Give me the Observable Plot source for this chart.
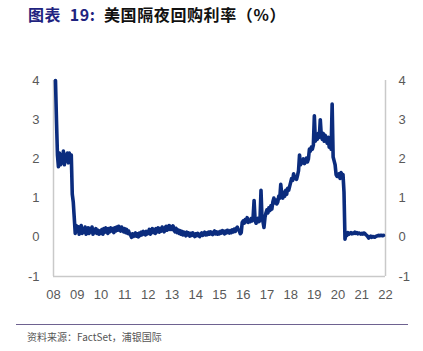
<!DOCTYPE html>
<html>
<head>
<meta charset="utf-8">
<script src="https://cdn.jsdelivr.net/npm/d3@7"></script>
<script src="https://cdn.jsdelivr.net/npm/@observablehq/plot@0.6"></script>
<style>
  html, body { margin: 0; padding: 0; background: #fff; }
  body { width: 423px; height: 351px; position: relative; overflow: hidden; }
  #title { position: absolute; left: 28px; top: 3px; font-family: "Noto Sans CJK SC", sans-serif; font-weight: bold; font-size: 16px; letter-spacing: 0.6px; color: #111; white-space: nowrap; line-height: 22px; }
  #title .lbl { color: #1f2380; }
  #chart { position: absolute; left: 0; top: 30px; }
  #capline { position: absolute; left: 16px; top: 324px; width: 392px; height: 0; border-top: 1.5px solid #6e6290; }
  #caption { position: absolute; left: 27px; top: 330px; font-family: "Noto Sans CJK SC", sans-serif; font-size: 10px; color: #555; white-space: nowrap; line-height: 14px; }
</style>
</head>
<body>
<div id="title"><span class="lbl">图表&nbsp; 19:</span>&nbsp; 美国隔夜回购利率（%）</div>
<div id="chart"></div>
<div id="capline"></div>
<div id="caption">资料来源：FactSet，浦银国际</div>
<script>
// Semi-monthly readings (24 per year), %
const r2008 = [null, null, 4.0, 3.0, 2.1, 1.8, 2.15, 1.85, 2.1, 1.9, 2.2, 1.85, 2.1, 1.95, 2.15, 1.9, 2.15, 1.95, 2.1, 1.1, 0.9, 0.5, 0.1, 0.3];
const r2009 = [0.15, 0.27, 0.08, 0.22, 0.3, 0.1, 0.22, 0.13, 0.26, 0.08, 0.2, 0.24, 0.1, 0.22, 0.14, 0.26, 0.08, 0.2, 0.12, 0.22, 0.1, 0.18, 0.08, 0.16];
const r2010 = [0.1, 0.2, 0.08, 0.22, 0.13, 0.24, 0.16, 0.1, 0.22, 0.14, 0.24, 0.16, 0.22, 0.12, 0.24, 0.16, 0.26, 0.18, 0.28, 0.2, 0.16, 0.26, 0.18, 0.14];
const r2011 = [0.22, 0.12, 0.2, 0.1, 0.16, 0.08, 0.06, 0.0, 0.09, 0.02, 0.07, 0.11, 0.03, 0.09, 0.01, 0.11, 0.05, 0.13, 0.07, 0.15, 0.09, 0.06, 0.15, 0.09];
const r2012 = [0.13, 0.2, 0.08, 0.16, 0.22, 0.12, 0.2, 0.1, 0.22, 0.14, 0.24, 0.13, 0.22, 0.16, 0.26, 0.18, 0.14, 0.24, 0.28, 0.18, 0.26, 0.3, 0.2, 0.27];
const r2013 = [0.2, 0.29, 0.18, 0.14, 0.23, 0.12, 0.19, 0.1, 0.17, 0.08, 0.15, 0.06, 0.13, 0.08, 0.04, 0.13, 0.06, 0.11, 0.03, 0.1, 0.05, 0.11, 0.06, 0.02];
const r2014 = [0.09, 0.04, 0.1, 0.05, 0.02, 0.08, 0.11, 0.05, 0.09, 0.13, 0.06, 0.11, 0.07, 0.13, 0.08, 0.14, 0.09, 0.07, 0.13, 0.16, 0.09, 0.14, 0.08, 0.13];
const r2015 = [0.09, 0.15, 0.11, 0.17, 0.12, 0.09, 0.16, 0.11, 0.18, 0.13, 0.11, 0.17, 0.12, 0.19, 0.14, 0.21, 0.15, 0.23, 0.26, 0.19, 0.17, 0.09, 0.12, 0.38];
const r2016 = [0.42, 0.36, 0.45, 0.4, 0.5, 0.38, 0.44, 0.4, 0.48, 0.42, 0.5, 0.94, 0.45, 0.36, 0.42, 0.48, 0.4, 0.45, 1.2, 0.5, 0.4, 0.25, 0.5, 0.62];
const r2017 = [0.7, 0.62, 0.75, 0.68, 0.8, 0.72, 0.9, 1.0, 0.88, 0.95, 0.85, 0.9, 1.05, 1.0, 1.35, 1.1, 1.0, 1.15, 1.05, 1.2, 1.1, 1.25, 1.2, 1.3];
const r2018 = [1.4, 1.5, 1.45, 1.62, 1.5, 1.55, 1.48, 1.58, 1.7, 2.1, 1.85, 1.95, 1.9, 2.0, 1.88, 1.95, 2.02, 1.92, 2.0, 2.25, 2.2, 2.3, 2.25, 2.35];
const r2019 = [3.1, 2.45, 2.6, 2.5, 2.65, 2.55, 3.0, 2.6, 2.5, 2.65, 2.45, 2.6, 2.5, 2.4, 2.55, 2.3, 2.4, 2.25, 3.4, 2.05, 1.95, 1.85, 1.6, 1.55];
const r2020 = [1.55, 1.62, 1.5, 1.65, 1.58, 1.6, 1.15, -0.05, 0.1, 0.05, 0.12, 0.08, 0.1, 0.12, 0.09, 0.11, 0.1, 0.13, 0.1, 0.12, 0.09, 0.11, 0.1, 0.08];
const r2021 = [0.1, 0.08, 0.11, 0.1, 0.07, 0.05, 0.02, -0.02, 0.01, 0.03, 0.0, 0.02, 0.01, 0.0, 0.02, 0.03, 0.04, 0.05, 0.04, 0.05, 0.05, 0.04, 0.05, null];

const seriesYears = [2008, 2009, 2010, 2011, 2012, 2013, 2014, 2015, 2016, 2017, 2018, 2019, 2020, 2021];
const seriesByYear = [r2008, r2009, r2010, r2011, r2012, r2013, r2014, r2015, r2016, r2017, r2018, r2019, r2020, r2021];

const xTickYears = [2008, 2009, 2010, 2011, 2012, 2013, 2014, 2015, 2016, 2017, 2018, 2019, 2020, 2021, 2022];
const xTickLabels = ["08", "09", "10", "11", "12", "13", "14", "15", "16", "17", "18", "19", "20", "21", "22"];
const yTicks = [-1, 0, 1, 2, 3, 4];
const yTickLabels = ["-1", "0", "1", "2", "3", "4"];

const data = [];
seriesYears.forEach((yr, k) => {
  seriesByYear[k].forEach((v, i) => data.push({t: yr + i / 24, v}));
});

const axisColor = "#595959";
const lineColor = "#0b2c7e";
const frameColor = "#c9c9c9";
const yFmt = d => yTickLabels[yTicks.indexOf(d)];

const chart = Plot.plot({
  width: 423,
  height: 290,
  marginTop: 50,
  marginBottom: 44,
  marginLeft: 53,
  marginRight: 38,
  style: {fontFamily: "'Liberation Sans', Arial, sans-serif", fontSize: "13px", background: "#fff"},
  x: {type: "linear", domain: [2008, 2022]},
  y: {domain: [-1, 4]},
  marks: [
    Plot.ruleX([2008, 2022], {stroke: frameColor, strokeWidth: 1.5}),
    Plot.ruleY([-1], {stroke: frameColor, strokeWidth: 1.5}),
    Plot.lineY(data, {x: "t", y: "v", stroke: lineColor, strokeWidth: 3.6, strokeLinejoin: "round"}),
    Plot.axisY({anchor: "left", ticks: yTicks, tickFormat: yFmt, tickSize: 0, tickPadding: 14, color: axisColor, fontSize: 13, label: null}),
    Plot.axisY({anchor: "right", ticks: yTicks, tickFormat: yFmt, tickSize: 0, tickPadding: 13, color: axisColor, fontSize: 13, label: null}),
    Plot.axisX({anchor: "bottom", ticks: xTickYears, tickSize: 0, tickPadding: 13, color: axisColor, fontSize: 13, label: null,
      tickFormat: d => xTickLabels[xTickYears.indexOf(d)]})
  ]
});
document.getElementById("chart").appendChild(chart);
</script>
</body>
</html>
